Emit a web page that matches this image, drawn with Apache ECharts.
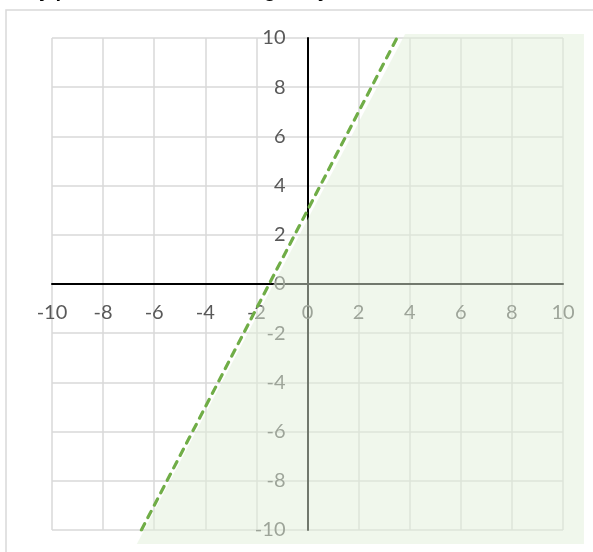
<!DOCTYPE html>
<html>
<head>
<meta charset="utf-8">
<script src="https://cdn.jsdelivr.net/npm/echarts@6/dist/echarts.min.js"></script>
<style>html,body{margin:0;padding:0;background:#fff}#c{width:593px;height:552px}</style>
</head>
<body>
<div id="c"></div>
<script>
// Data
const titleText = "Any point in the shaded region: y < 2x + 3";
const axisMin = -10, axisMax = 10, axisStep = 2;
const lineX = [-6.5, 3.5];      // boundary line y = 2x + 3
const lineY = [-10, 10];
const shadeX = [-6.68, 3.82, 10.82, 10.82];  // shaded region vertices
const shadeY = [-10.57, 10.16, 10.16, -10.57];

const lineData = lineX.map((x, i) => [x, lineY[i]]);
const shadeData = shadeX.map((x, i) => [x, shadeY[i]]);

const G = {left: 52, right: 30, top: 38, bottom: 22};
const W = 593, H = 552;
const gw = W - G.left - G.right, gh = H - G.top - G.bottom;
// move axes so they cross at the origin
const xOffset = -gh * (0 - axisMin) / (axisMax - axisMin);
const yOffset = -gw * (0 - axisMin) / (axisMax - axisMin);

const chart = echarts.init(document.getElementById('c'), null, {renderer: 'canvas'});
const labelStyle = {color: '#595959', fontSize: 20, fontFamily: 'Lato'};
chart.setOption({
  animation: false,
  backgroundColor: '#ffffff',
  graphic: [
    {type: 'rect', shape: {x: 6, y: 10, width: 700, height: 700}, style: {fill: 'none', stroke: '#d9d9d9', lineWidth: 1.5}, z: -10, silent: true},
    {type: 'text', x: 14, y: 1, style: {text: titleText, font: 'italic bold 20px "Liberation Sans"', fill: '#000', verticalAlign: 'bottom'}, silent: true}
  ],
  grid: Object.assign({containLabel: false, outerBoundsMode: 'none'}, G),
  xAxis: {
    type: 'value', min: axisMin, max: axisMax, interval: axisStep,
    position: 'bottom', offset: xOffset,
    axisLine: {onZero: false, lineStyle: {color: '#000', width: 2}},
    axisTick: {show: false},
    axisLabel: Object.assign({margin: 19}, labelStyle),
    splitLine: {show: true, lineStyle: {color: '#d9d9d9', width: 1.5}}
  },
  yAxis: {
    type: 'value', min: axisMin, max: axisMax, interval: axisStep,
    position: 'left', offset: yOffset,
    axisLine: {onZero: false, lineStyle: {color: '#000', width: 2}},
    axisTick: {show: false},
    axisLabel: Object.assign({margin: 22}, labelStyle),
    splitLine: {show: true, lineStyle: {color: '#d9d9d9', width: 1.5}}
  },
  series: [
    {
      type: 'custom', z: 5, clip: false, silent: true,
      data: [0],
      renderItem: function (params, api) {
        const pts = shadeData.map(p => api.coord(p));
        return {type: 'polygon', shape: {points: pts}, style: {fill: '#e2efda', opacity: 0.5}};
      }
    },
    {
      type: 'line', z: 6, data: lineData, symbol: 'none', silent: true,
      lineStyle: {color: '#70ad47', width: 3.2, type: [7, 7], cap: 'round'}
    }
  ]
});
</script>
</body>
</html>
